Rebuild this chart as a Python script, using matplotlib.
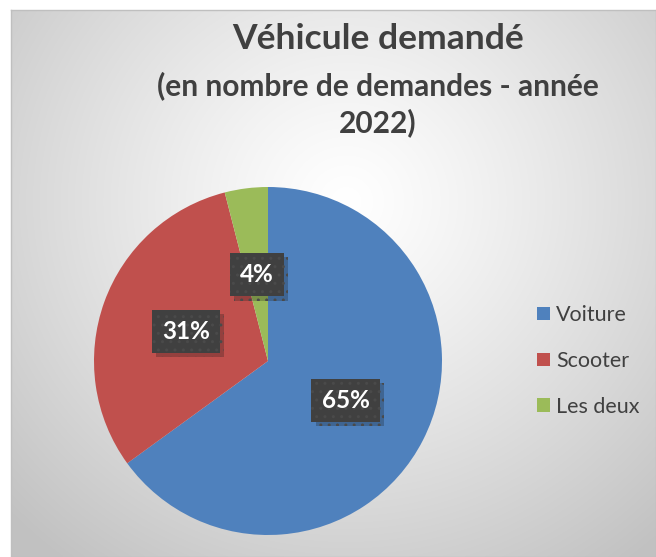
import numpy as np
import matplotlib.pyplot as plt
from matplotlib import patheffects as pe

plt.rcParams['font.family'] = ['Lato', 'DejaVu Sans']

# Données
categories = ['Voiture', 'Scooter', 'Les deux']
valeurs = [65, 31, 4]
couleurs = ['#4F81BD', '#C0504D', '#9BBB59']
titre = 'Véhicule demandé'
sous_titre = ['(en nombre de demandes - année', '2022)']

W, H = 656, 557
fig = plt.figure(figsize=(W / 100, H / 100), dpi=100)

# Fond avec dégradé radial (style Excel)
bg = fig.add_axes([11 / W, 0, 1 - 11 / W, (H - 10) / H])
yy, xx = np.mgrid[0:1:300j, 0:1:300j]
d = np.sqrt(((xx - 0.52) / 0.75) ** 2 + ((yy - 0.35) / 0.85) ** 2)
g = np.clip(1.0 - 0.25 * d ** 1.2, 0.76, 1.0)
bg.imshow(np.dstack([g, g, g]), extent=[0, 1, 1, 0], aspect='auto', interpolation='bilinear')
bg.set_xlim(0, 1)
bg.set_ylim(1, 0)
bg.set_xticks([])
bg.set_yticks([])
for s in bg.spines.values():
    s.set_color('#bfbfbf')
    s.set_linewidth(1)

# Camembert
ax = fig.add_axes([94 / W, 22 / H, 348 / W, 348 / H])
wedges, texts, autotexts = ax.pie(valeurs, colors=couleurs, startangle=90, counterclock=False,
                                  autopct='%1.0f%%', pctdistance=0.5,
                                  wedgeprops=dict(linewidth=0))
ax.set_aspect('equal')
ax.set_xlim(-1, 1)
ax.set_ylim(-1, 1)
ax.axis('off')

for t in autotexts:
    t.set_color('white')
    t.set_fontsize(17.5)
    t.set_fontweight('bold')
    t.set_bbox(dict(boxstyle='square,pad=0.42', facecolor='#404040', edgecolor='#4a4a4a',
                    linewidth=0, hatch='..'))
    t.get_bbox_patch().set_path_effects([pe.SimplePatchShadow(offset=(3, -3), alpha=0.25),
                                         pe.Normal()])

# Titre
fig.text(378 / W, 1 - 39 / H, titre, ha='center', va='center', fontsize=25.5,
         fontweight='bold', color='#404040')
for i, ligne in enumerate(sous_titre):
    fig.text(378 / W, 1 - (86 + 37 * i) / H, ligne, ha='center', va='center', fontsize=21.5,
             fontweight='bold', color='#404040')

# Légende
fig.legend(wedges, categories, loc='center left', bbox_to_anchor=(537 / W, 1 - 361 / H),
           frameon=False, fontsize=15.5, handlelength=0.6, handleheight=0.6,
           labelspacing=1.2, handletextpad=0.3, borderpad=0, borderaxespad=0,
           labelcolor='#404040')

fig.savefig('out.png', dpi=100)
